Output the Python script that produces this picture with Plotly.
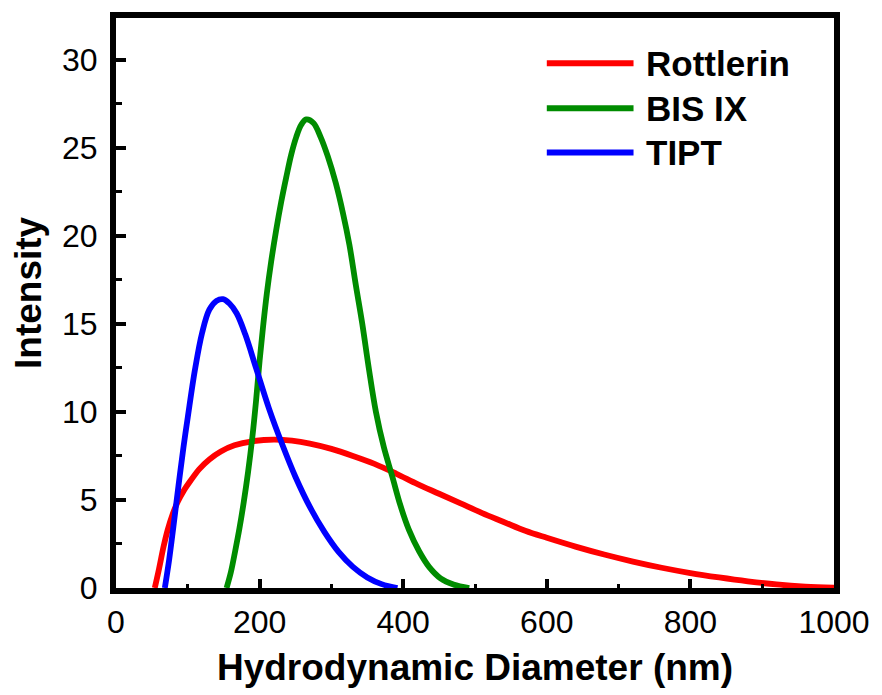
import plotly.graph_objects as go

# ---- data ----
rott_x = [54, 60, 66, 72, 79, 86, 94, 104, 116, 130, 146, 165, 190, 220, 245, 270, 300, 330, 360, 390, 420, 450, 480, 510, 540, 570, 600, 640, 680, 720, 760, 800, 840, 880, 920, 960, 1000]
rott_y = [0, 1.1, 2.3, 3.3, 4.2, 4.9, 5.5, 6.1, 6.75, 7.3, 7.75, 8.1, 8.33, 8.42, 8.36, 8.2, 7.9, 7.5, 7.05, 6.5, 5.9, 5.35, 4.8, 4.25, 3.75, 3.25, 2.85, 2.35, 1.9, 1.5, 1.15, 0.85, 0.6, 0.38, 0.2, 0.08, 0.02]

bis_x = [154, 160, 166, 172, 178, 184, 190, 195, 200, 205, 210, 216, 223, 230, 237, 244, 251, 258, 265, 275, 285, 295, 306, 316, 325, 334, 343, 352, 362, 373, 385, 396, 408, 422, 436, 452, 470, 492]
bis_y = [0, 0.9, 2.1, 3.4, 4.9, 6.6, 8.6, 10.6, 12.9, 14.9, 16.7, 18.5, 20.3, 21.9, 23.3, 24.6, 25.6, 26.3, 26.6, 26.4, 25.6, 24.5, 23.0, 21.3, 19.5, 17.2, 15.0, 12.5, 10.0, 8.0, 6.3, 4.7, 3.3, 2.1, 1.2, 0.55, 0.2, 0]

tipt_x = [68, 74, 80, 87, 94, 100, 110, 120, 130, 140, 149, 158, 168, 180, 195, 213, 232, 250, 270, 290, 310, 330, 350, 370, 392]
tipt_y = [0, 1.6, 3.5, 5.8, 8.0, 9.7, 12.4, 14.5, 15.8, 16.3, 16.4, 16.15, 15.6, 14.4, 12.5, 10.2, 8.1, 6.3, 4.6, 3.2, 2.05, 1.2, 0.6, 0.22, 0]

series_names = ["Rottlerin", "BIS IX", "TIPT"]
series_colors = ["#FF0000", "#008C00", "#0000FF"]

x_ticks = [0, 200, 400, 600, 800, 1000]
y_ticks = [0, 5, 10, 15, 20, 25, 30]

FONT = "Liberation Sans, Arial, sans-serif"

fig = go.Figure()
for name, xs, ys, col in zip(series_names, [rott_x, bis_x, tipt_x], [rott_y, bis_y, tipt_y], series_colors):
    fig.add_trace(go.Scatter(x=xs, y=ys, mode="lines", name=name,
                             line=dict(color=col, width=5.8, shape="spline", smoothing=1.0),
                             showlegend=False, cliponaxis=True))

# manual legend (long line samples like the reference)
leg_y = [0.9205, 0.8417, 0.764]
for name, col, yy in zip(series_names, series_colors, leg_y):
    fig.add_shape(type="line", xref="paper", yref="paper", x0=0.6, x1=0.7208, y0=yy, y1=yy,
                  line=dict(color=col, width=6))
    fig.add_annotation(xref="paper", yref="paper", x=0.7347, y=yy, text=name, showarrow=False,
                       xanchor="left", yanchor="middle",
                       font=dict(family=FONT, size=35, color="black", weight=700))

# y-axis title placed like the reference
fig.add_annotation(xref="paper", yref="paper", x=-0.1222, y=0.518, text="Intensity", showarrow=False,
                   textangle=-90, xanchor="center", yanchor="middle",
                   font=dict(family=FONT, size=37, color="black", weight=700))

axis_common = dict(showline=True, linecolor="black", linewidth=6, mirror=True,
                   ticks="inside", tickcolor="black", tickwidth=3.5,
                   showgrid=False, zeroline=False,
                   tickfont=dict(family=FONT, size=32, color="black"))

fig.update_xaxes(range=[0, 1000], tickvals=x_ticks, ticklen=9,
                 minor=dict(dtick=100, tick0=0, ticks="inside", ticklen=4, tickwidth=3, tickcolor="black"),
                 title=dict(text="Hydrodynamic Diameter (nm)", standoff=17,
                            font=dict(family=FONT, size=37, color="black", weight=700)),
                 ticklabelstandoff=1,
                 **axis_common)
fig.update_yaxes(range=[0, 32.36], tickvals=y_ticks, ticklen=10,
                 minor=dict(dtick=2.5, tick0=0, ticks="inside", ticklen=6, tickwidth=3, tickcolor="black"),
                 ticklabelstandoff=6,
                 **axis_common)

fig.update_layout(width=882, height=695, margin=dict(l=116, r=46, t=15, b=105),
                  paper_bgcolor="white", plot_bgcolor="white")

fig.write_html("out.html")
